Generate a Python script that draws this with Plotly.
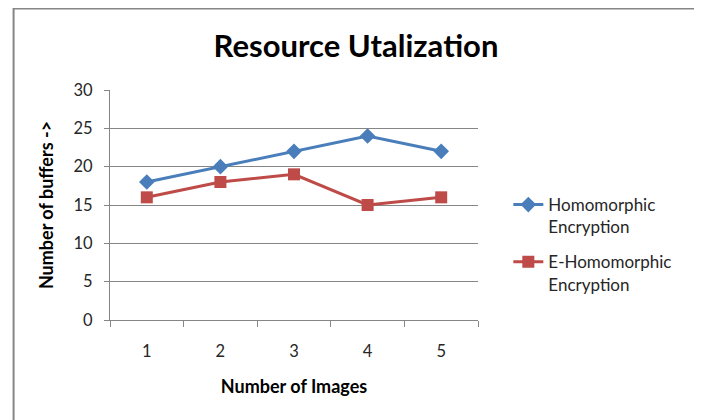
import plotly.graph_objects as go

categories = ["1", "2", "3", "4", "5"]
homomorphic = [18, 20, 22, 24, 22]
e_homomorphic = [16, 18, 19, 15, 16]
series_names = ["Homomorphic<br>Encryption", "E-Homomorphic<br>Encryption"]

FONT = "Lato, Carlito, Calibri, sans-serif"
W, H = 694, 412  # page body has an 8px margin inside the 702x420 window

fig = go.Figure()
fig.add_trace(go.Scatter(
    x=categories, y=homomorphic, name=series_names[0], mode="lines+markers",
    legendgroup="a",
    line=dict(color="#4A7EBB", width=3),
    marker=dict(symbol="diamond", size=12, color="#4A7EBB"),
))
fig.add_trace(go.Scatter(
    x=categories, y=e_homomorphic, name=series_names[1], mode="lines+markers",
    legendgroup="b",
    line=dict(color="#BE4B48", width=3),
    marker=dict(symbol="square", size=12, color="#BE4B48"),
))

fig.update_layout(
    width=W, height=H,
    margin=dict(l=102, r=224, t=82, b=100, autoexpand=False),
    paper_bgcolor="white", plot_bgcolor="white",
    font=dict(family=FONT, size=16, color="#262626"),
    title=dict(text="<b>Resource Utalization</b>", x=348 / W, xanchor="center",
               y=1 - 38 / H, yanchor="middle",
               font=dict(family=FONT, size=31, color="black")),
    showlegend=True,
    legend=dict(x=1.0824, xanchor="left", y=0.578, yanchor="top",
                valign="top",
                font=dict(family=FONT, size=17, color="#262626"),
                tracegroupgap=10, bgcolor="rgba(0,0,0,0)"),
    shapes=[dict(type="rect", xref="paper", yref="paper",
                 x0=-0.262, x1=1.597, y0=-0.5, y1=1.354,
                 line=dict(color="#868686", width=2), layer="below")],
)

fig.update_xaxes(
    type="category", range=[-0.5, 4.5],
    showline=True, linecolor="#868686", linewidth=1,
    ticks="outside", tickson="boundaries", ticklen=6, tickcolor="#868686",
    ticklabelstandoff=16,
    showgrid=False, zeroline=False,
    tickfont=dict(family=FONT, size=16.5, color="#262626"),
    title=dict(text="<b>Number of Images</b>", standoff=20,
               font=dict(family=FONT, size=18, color="black")),
)
fig.update_yaxes(
    range=[0, 30], dtick=5, tick0=0,
    showline=True, linecolor="#868686", linewidth=1,
    ticks="outside", ticklen=5, tickcolor="#868686",
    ticklabelstandoff=8,
    showgrid=True, gridcolor="#868686", gridwidth=1, zeroline=False,
    tickfont=dict(family=FONT, size=16.5, color="#262626"),
    title=dict(text="<b>Number of buffers -></b>", standoff=15,
               font=dict(family=FONT, size=18, color="black")),
)

fig.write_html("out.html")
